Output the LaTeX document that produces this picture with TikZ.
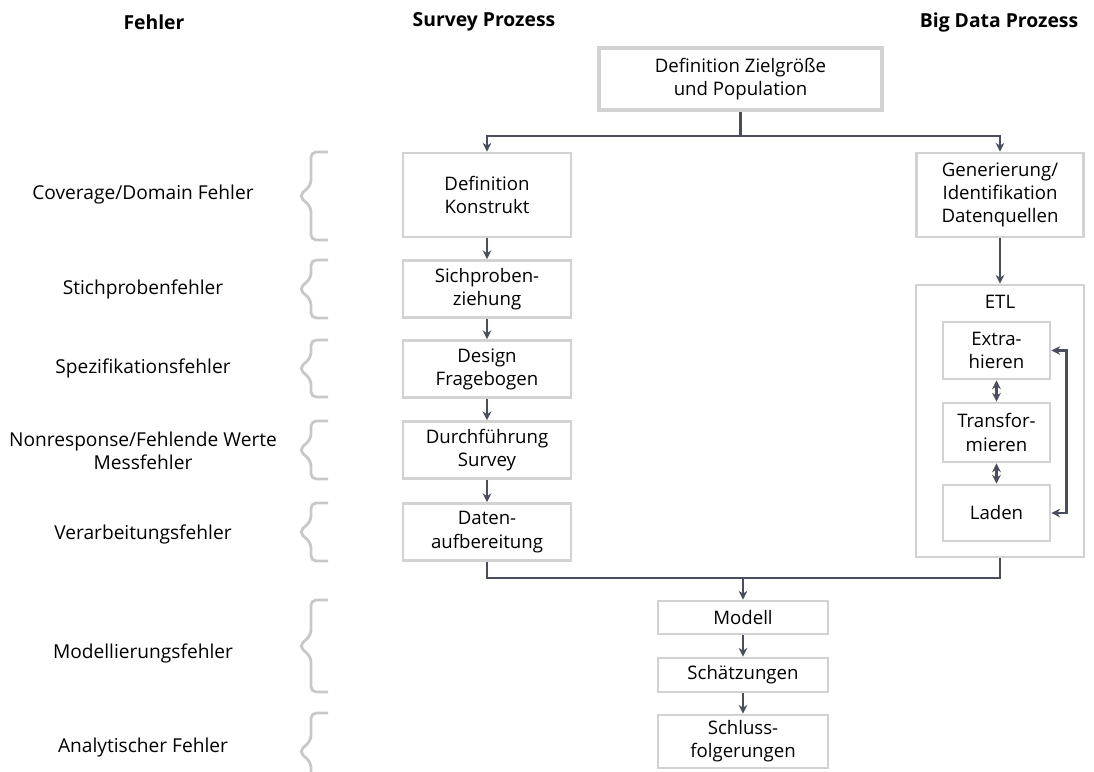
\documentclass[tikz,border=0pt]{standalone}
\usepackage{fontspec}
\setmainfont{Open Sans}
\usepackage{tikz}
\usetikzlibrary{arrows.meta}
\definecolor{boxgray}{HTML}{D2D2D2}
\definecolor{bracegray}{HTML}{C8C8C8}
\definecolor{arrowslate}{HTML}{4A4E5C}
\tikzset{
  stepbox/.style={draw=boxgray, line width=1.6pt, fill=white, align=center,
    minimum width=3.36cm, inner sep=1pt, font=\fontsize{10.6}{13.2}\selectfont},
  flowline/.style={draw=arrowslate, line width=1.3pt},
  flow/.style={flowline, -{Stealth[length=5pt,width=5pt]}},
  flowboth/.style={flowline, {Stealth[length=5pt,width=5pt]}-{Stealth[length=5pt,width=5pt]}},
  errbrace/.style={draw=bracegray, line width=1.6pt, rounded corners=3pt},
  errlabel/.style={align=center, font=\fontsize{10.9}{13.2}\selectfont},
  colhead/.style={font=\fontsize{11}{13}\selectfont\bfseries}
}
\begin{document}
\begin{tikzpicture}[x=0.02cm,y=-0.02cm]
\useasboundingbox (0,0) rectangle (1094,771);
\clip (0,0) rectangle (1094,771);
\node[colhead] (hfehler) at (154,22) {Fehler};
\node[colhead] (hsurvey) at (484,22) {Survey Prozess};
\node[colhead] (hbigdata) at (999,22) {Big Data Prozess};

\node[stepbox, line width=2.3pt, minimum width=5.66cm, minimum height=1.24cm] (ziel) at (740.5,79) {Definition Zielgröße\\und Population};

\node[stepbox, minimum height=1.68cm] (konstrukt) at (487,195) {Definition\\Konstrukt};
\node[stepbox, minimum height=1.14cm] (stichprobe) at (487,289) {Sichproben-\\ziehung};
\node[stepbox, minimum height=1.14cm] (design) at (487,369) {Design\\Fragebogen};
\node[stepbox, minimum height=1.14cm] (durchf) at (487,450) {Durchführung\\Survey};
\node[stepbox, minimum height=1.14cm] (aufber) at (487,532) {Daten-\\aufbereitung};

\node[stepbox, minimum width=3.34cm, minimum height=1.68cm] (quellen) at (1000,195) {Generierung/\\Identifikation\\Datenquellen};
\node[stepbox, minimum width=3.36cm, minimum height=5.44cm,
  label={[anchor=north, font=\fontsize{10.6}{13}\selectfont, inner sep=6.5pt]north:ETL}] (etl) at (1000,421) {};
\node[stepbox, minimum width=2.14cm, minimum height=1.14cm] (extra) at (996.5,350.5) {Extra-\\hieren};
\node[stepbox, minimum width=2.14cm, minimum height=1.18cm] (transf) at (996.5,432.5) {Transfor-\\mieren};
\node[stepbox, minimum width=2.14cm, minimum height=1.12cm] (laden) at (996.5,513) {Laden};

\node[stepbox, minimum width=3.4cm, minimum height=0.66cm] (modell) at (743,617.5) {Modell};
\node[stepbox, minimum width=3.4cm, minimum height=0.68cm] (schaetz) at (743,675) {Schätzungen};
\node[stepbox, minimum width=3.4cm, minimum height=1.06cm] (schluss) at (743,741.5) {Schluss-\\folgerungen};

\draw[flow] (ziel.south) -- ++(0,24) -| (konstrukt.north);
\draw[flow] (ziel.south) -- ++(0,24) -| (quellen.north);
\draw[flow] (konstrukt) -- (stichprobe);
\draw[flow] (stichprobe) -- (design);
\draw[flow] (design) -- (durchf);
\draw[flow] (durchf) -- (aufber);
\draw[flow] (quellen) -- (etl);
\draw[flowboth] (extra) -- (transf);
\draw[flowboth] (transf) -- (laden);
\draw[flowboth] (extra.east) -- ++(15,0) |- (laden.east);
\coordinate (join) at (743,578);
\draw[flowline] (aufber.south) |- (join) -| (etl.south);
\draw[flow] (join) -- (modell);
\draw[flow] (modell) -- (schaetz);
\draw[flow] (schaetz) -- (schluss);

\foreach \top/\bot [count=\i] in {152/240, 260/318, 340/397, 421/479, 503/561, 600/692, 713/790}
  \draw[errbrace] (328,\top) -- (311,\top) -- (311,{(\top+\bot)/2-11}) -- (299,{(\top+\bot)/2})
    -- (311,{(\top+\bot)/2+11}) -- (311,\bot) -- (328,\bot);
\foreach \y/\txt [count=\i] in {195/{Coverage/Domain Fehler}, 289/Stichprobenfehler,
  368/Spezifikationsfehler, 451/{Nonresponse/Fehlende Werte\\Messfehler},
  534/Verarbeitungsfehler, 653/Modellierungsfehler, 748/{Analytischer Fehler}}
  \node[errlabel] (err\i) at (143,\y) {\txt};
\end{tikzpicture}
\end{document}
